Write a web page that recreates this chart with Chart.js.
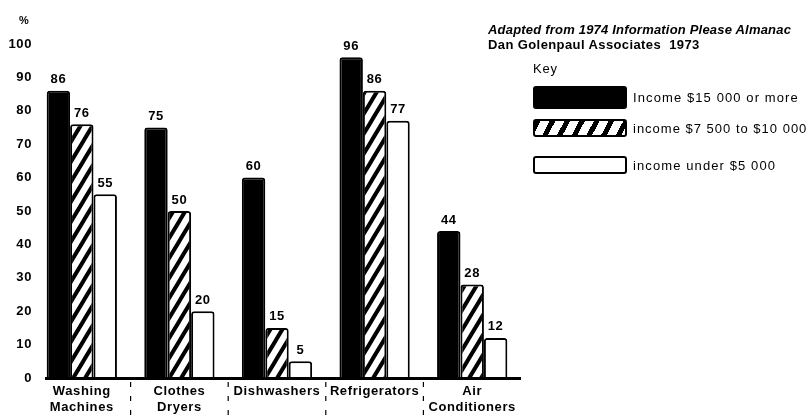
<!DOCTYPE html>
<html>
<head>
<meta charset="utf-8">
<script src="https://cdn.jsdelivr.net/npm/chart.js@4.4.1/dist/chart.umd.min.js"></script>
<style>
  html, body { margin:0; padding:0; background:#fff; }
  #wrap { position:relative; width:811px; height:417px; overflow:hidden; font-family:"Liberation Sans", Arial, sans-serif; color:#000; }
  #c { position:absolute; left:0; top:0; }
  .t { position:absolute; white-space:nowrap; font-size:13px; line-height:13px; }
  .box { position:absolute; left:533px; width:90px; border:2px solid #000; border-radius:3px; box-sizing:content-box; }
</style>
</head>
<body>
<div id="wrap">
  <canvas id="c" width="811" height="417"></canvas>
  <div class="t" style="left:19px;top:14px;font-size:11px;font-weight:bold;">%</div>
  <div class="t" style="left:488px;top:23px;font-style:italic;font-weight:bold;letter-spacing:0.2px;">Adapted from 1974 Information Please Almanac</div>
  <div class="t" style="left:488px;top:38px;font-weight:bold;letter-spacing:0.4px;">Dan Golenpaul Associates&nbsp; 1973</div>
  <div class="t" style="left:533px;top:62px;letter-spacing:0.8px;">Key</div>
  <div class="box" style="top:86px;height:19px;background:#000;"></div>
  <div class="box" style="top:119px;height:14px;background:repeating-linear-gradient(118deg,#000 0 5px,#fff 5px 13px);"></div>
  <div class="box" style="top:156px;height:14px;background:#fff;"></div>
  <div class="t" id="l0" style="left:633px;top:91px;letter-spacing:1.1px;"></div>
  <div class="t" id="l1" style="left:633px;top:122px;letter-spacing:1.0px;"></div>
  <div class="t" id="l2" style="left:633px;top:159px;letter-spacing:1.1px;"></div>
</div>
<script>
// ---- data ----
const categories = [['Washing','Machines'],['Clothes','Dryers'],['Dishwashers'],['Refrigerators'],['Air','Conditioners']];
const seriesNames = ['Income $15 000 or more','income $7 500 to $10 000','income under $5 000'];
const incomeHigh = [86, 75, 60, 96, 44];
const incomeMid  = [76, 50, 15, 86, 28];
const incomeLow  = [55, 20, 5, 77, 12];
const yTicks = [0,10,20,30,40,50,60,70,80,90,100];

seriesNames.forEach((n,i)=>{ document.getElementById('l'+i).textContent = n; });

const FONT = '"Liberation Sans", Arial, sans-serif';

function makeHatch(){
  const c = document.createElement('canvas');
  c.width = 12; c.height = 20;
  const g = c.getContext('2d');
  g.fillStyle = '#fff'; g.fillRect(0,0,12,20);
  g.strokeStyle = '#000'; g.lineWidth = 4;
  g.beginPath();
  [-12,0,12].forEach(dx=>{ g.moveTo(dx-12,40); g.lineTo(dx+24,-20); });
  g.stroke();
  return g.createPattern(c,'repeat');
}
const hatch = makeHatch();

const spacingPlugin = {
  id:'spacing',
  beforeDraw(chart){ chart.ctx.letterSpacing = '0.6px'; }
};

const axisPlugin = {
  id:'axisline',
  afterDatasetsDraw(chart){
    const ctx = chart.ctx, a = chart.chartArea, x = chart.scales.x;
    ctx.save();
    ctx.strokeStyle = '#000';
    ctx.lineWidth = 3;
    ctx.beginPath(); ctx.moveTo(a.left + 12, a.bottom + 0.5); ctx.lineTo(a.right, a.bottom + 0.5); ctx.stroke();
    ctx.lineWidth = 1.2;
    ctx.setLineDash([5,9]);
    for (let i=1;i<categories.length;i++){
      const px = (x.getPixelForTick(i-1)+x.getPixelForTick(i))/2;
      ctx.beginPath(); ctx.moveTo(px, a.bottom+4); ctx.lineTo(px, 417); ctx.stroke();
    }
    ctx.restore();
  }
};

const valuePlugin = {
  id:'values',
  afterDatasetsDraw(chart){
    const ctx = chart.ctx;
    ctx.save();
    ctx.font = 'bold 13px ' + FONT;
    ctx.fillStyle = '#000';
    ctx.textAlign = 'center';
    ctx.textBaseline = 'middle';
    chart.data.datasets.forEach((ds,di)=>{
      chart.getDatasetMeta(di).data.forEach((bar,i)=>{
        ctx.fillText(String(ds.data[i]), bar.x, bar.y - 11);
      });
    });
    ctx.restore();
  }
};

new Chart(document.getElementById('c'), {
  type:'bar',
  data:{
    labels: categories,
    datasets:[
      { label: seriesNames[0], data: incomeHigh, backgroundColor:'#000', borderColor:'#000', borderWidth:2 },
      { label: seriesNames[1], data: incomeMid, backgroundColor: hatch, borderColor:'#000', borderWidth:2 },
      { label: seriesNames[2], data: incomeLow, backgroundColor:'#fff', borderColor:'#000', borderWidth:2 }
    ]
  },
  options:{
    responsive:false,
    devicePixelRatio:1,
    animation:false,
    events:[],
    layout:{ padding:{ left:0, right:290, top:44, bottom:0 } },
    datasets:{ bar:{ categoryPercentage:0.72, barPercentage:1.0, borderRadius:{topLeft:3, topRight:3}, borderSkipped:'start' } },
    plugins:{ legend:{display:false}, tooltip:{enabled:false}, title:{display:false} },
    scales:{
      x:{
        grid:{ display:false, drawTicks:false },
        border:{ display:false },
        ticks:{ color:'#000', padding:5, font:{ family:FONT, size:13, weight:'bold', lineHeight:1.25 }, maxRotation:0, autoSkip:false },
        afterFit(s){ s.height = 39; }
      },
      y:{
        min:0, max:100,
        afterBuildTicks(s){ s.ticks = yTicks.map(v=>({value:v})); },
        grid:{ display:false, drawTicks:false },
        border:{ display:false },
        ticks:{ color:'#000', padding:1, font:{ family:FONT, size:13, weight:'bold' } },
        afterFit(s){ s.width = 33; }
      }
    }
  },
  plugins:[spacingPlugin, axisPlugin, valuePlugin]
});
</script>
</body>
</html>
